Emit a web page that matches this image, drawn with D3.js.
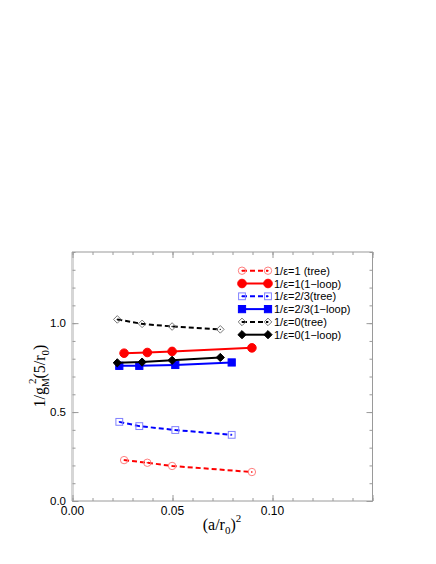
<!DOCTYPE html>
<html>
<head>
  <meta charset="utf-8">
  <title>1/g_M^2 vs (a/r0)^2</title>
  <style>
    body { margin: 0; background: #fff; }
  </style>
</head>
<body>
  <script src="https://d3js.org/d3.v7.min.js"></script>
  <script>
    const width = 436;
    const height = 564;

    // data
    const xTree1 = [0.0258, 0.0374, 0.0498, 0.0897];
    const yTree1 = [0.230, 0.215, 0.197, 0.163];
    const xLoop1 = [0.0258, 0.0374, 0.0498, 0.0897];
    const yLoop1 = [0.831, 0.835, 0.841, 0.861];
    const xTree23 = [0.0234, 0.0334, 0.0514, 0.0796];
    const yTree23 = [0.445, 0.421, 0.399, 0.372];
    const xLoop23 = [0.0234, 0.0334, 0.0514, 0.0796];
    const yLoop23 = [0.760, 0.760, 0.765, 0.779];
    const xTree0 = [0.0224, 0.0348, 0.0498, 0.0739];
    const yTree0 = [1.021, 0.996, 0.981, 0.965];
    const xLoop0 = [0.0224, 0.0348, 0.0498, 0.0739];
    const yLoop0 = [0.777, 0.781, 0.791, 0.807];

    const xTicks = [0, 0.05, 0.10];
    const xTickLabels = ['0.00', '0.05', '0.10'];
    const yTicks = [0, 0.5, 1.0];
    const yTickLabels = ['0.0', '0.5', '1.0'];

    const legendLabels = [
      '1/\u03b5=1 (tree)',
      '1/\u03b5=1(1\u2212loop)',
      '1/\u03b5=2/3(tree)',
      '1/\u03b5=2/3(1\u2212loop)',
      '1/\u03b5=0(tree)',
      '1/\u03b5=0(1\u2212loop)'
    ];

    const series = [
      { xs: xTree1, ys: yTree1, color: '#ff0000', light: '#ff7f7f', shape: 'circle', open: true },
      { xs: xLoop1, ys: yLoop1, color: '#ff0000', light: '#ff0000', shape: 'circle', open: false },
      { xs: xTree23, ys: yTree23, color: '#0000ff', light: '#8080ff', shape: 'square', open: true },
      { xs: xLoop23, ys: yLoop23, color: '#0000ff', light: '#0000ff', shape: 'square', open: false },
      { xs: xTree0, ys: yTree0, color: '#000000', light: '#777777', shape: 'diamond', open: true },
      { xs: xLoop0, ys: yLoop0, color: '#000000', light: '#000000', shape: 'diamond', open: false }
    ];

    const pLeft = 72.5, pRight = 372.5, pTop = 252, pBottom = 501;

    const x = d3.scaleLinear().domain([0, 0.15]).range([pLeft, pRight]);
    const y = d3.scaleLinear().domain([0, 1.4]).range([pBottom, pTop]);

    const svg = d3.select('body')
      .append('svg')
      .attr('width', width)
      .attr('height', height);

    const axisColor = '#9a9a9a';

    // frame
    svg.append('rect')
      .attr('x', pLeft).attr('y', pTop)
      .attr('width', pRight - pLeft).attr('height', pBottom - pTop)
      .attr('fill', 'none').attr('stroke', axisColor).attr('stroke-width', 1);
    svg.append('line')
      .attr('x1', pLeft).attr('x2', pLeft).attr('y1', pTop).attr('y2', pBottom)
      .attr('stroke', '#d6d6d6').attr('stroke-width', 3);

    const styleAxis = (g) => {
      g.select('.domain').remove();
      g.selectAll('.tick line').attr('stroke', axisColor);
      g.selectAll('.tick text').remove();
    };

    const minorX = d3.range(0, 0.1501, 0.01);
    const minorY = d3.range(0, 1.401, 0.1);
    const majorX = d3.range(0, 0.1501, 0.05);
    const majorY = d3.range(0, 1.401, 0.5);

    svg.append('g').attr('transform', `translate(0,${pBottom})`)
      .call(d3.axisBottom(x).tickValues(minorX).tickSize(-3)).call(styleAxis);
    svg.append('g').attr('transform', `translate(0,${pBottom})`)
      .call(d3.axisBottom(x).tickValues(majorX).tickSize(-6)).call(styleAxis);
    svg.append('g').attr('transform', `translate(0,${pTop})`)
      .call(d3.axisTop(x).tickValues(minorX).tickSize(-3)).call(styleAxis);
    svg.append('g').attr('transform', `translate(0,${pTop})`)
      .call(d3.axisTop(x).tickValues(majorX).tickSize(-6)).call(styleAxis);
    svg.append('g').attr('transform', `translate(${pLeft},0)`)
      .call(d3.axisLeft(y).tickValues(minorY).tickSize(-3)).call(styleAxis);
    svg.append('g').attr('transform', `translate(${pLeft},0)`)
      .call(d3.axisLeft(y).tickValues(majorY).tickSize(-6)).call(styleAxis);
    svg.append('g').attr('transform', `translate(${pRight},0)`)
      .call(d3.axisRight(y).tickValues(minorY).tickSize(-3)).call(styleAxis);
    svg.append('g').attr('transform', `translate(${pRight},0)`)
      .call(d3.axisRight(y).tickValues(majorY).tickSize(-6)).call(styleAxis);

    // tick labels
    svg.append('g').selectAll('text')
      .data(xTicks)
      .join('text')
      .attr('x', (d) => x(d))
      .attr('y', 515)
      .attr('text-anchor', 'middle')
      .attr('font-family', 'Liberation Sans, Arial, sans-serif')
      .attr('font-size', 12)
      .text((d, i) => xTickLabels[i]);

    svg.append('g').selectAll('text')
      .data(yTicks)
      .join('text')
      .attr('x', 66)
      .attr('y', (d) => y(d) + 4)
      .attr('text-anchor', 'end')
      .attr('font-family', 'Liberation Sans, Arial, sans-serif')
      .attr('font-size', 11.5)
      .text((d, i) => yTickLabels[i]);

    // axis titles
    const serif = 'Liberation Serif, Times New Roman, serif';
    const xt = svg.append('text')
      .attr('x', 222).attr('y', 530)
      .attr('text-anchor', 'middle')
      .attr('font-family', serif)
      .attr('font-size', 16);
    xt.append('tspan').text('(a/r');
    xt.append('tspan').attr('font-size', 11).attr('dy', 4).text('0');
    xt.append('tspan').attr('dy', -4).text(')');
    xt.append('tspan').attr('font-size', 11).attr('dy', -8).text('2');

    const yt = svg.append('text')
      .attr('transform', 'translate(45,376) rotate(-90)')
      .attr('text-anchor', 'middle')
      .attr('font-family', serif)
      .attr('font-size', 16);
    yt.append('tspan').text('1/g');
    yt.append('tspan').attr('font-size', 10).attr('dy', 4).text('M');
    yt.append('tspan').attr('font-size', 11).attr('dx', -6).attr('dy', -13).text('2');
    yt.append('tspan').attr('dy', 9).text('(5/r');
    yt.append('tspan').attr('font-size', 11).attr('dy', 4).text('0');
    yt.append('tspan').attr('dy', -4).text(')');

    const drawMarker = (g, s, cx, cy) => {
      const fill = s.open ? 'none' : s.color;
      const stroke = s.open ? s.light : s.color;
      if (s.shape === 'circle') {
        g.append('circle').attr('cx', cx).attr('cy', cy)
          .attr('r', s.open ? 3.7 : 4.3)
          .attr('fill', fill).attr('stroke', stroke).attr('stroke-width', 1);
      } else if (s.shape === 'square') {
        const h = s.open ? 3.4 : 3.6;
        g.append('rect').attr('x', cx - h).attr('y', cy - h)
          .attr('width', 2 * h).attr('height', 2 * h)
          .attr('fill', fill).attr('stroke', stroke).attr('stroke-width', 1);
      } else {
        const h = s.open ? 3.8 : 4.1;
        g.append('path')
          .attr('d', `M${cx},${cy - h}L${cx + h},${cy}L${cx},${cy + h}L${cx - h},${cy}Z`)
          .attr('fill', fill).attr('stroke', stroke).attr('stroke-width', 1);
      }
      if (s.open) {
        g.append('circle').attr('cx', cx).attr('cy', cy).attr('r', 0.7).attr('fill', s.color);
      }
    };

    const line = d3.line().x((d) => x(d[0])).y((d) => y(d[1]));

    series.forEach((s) => {
      const pts = s.xs.map((v, i) => [v, s.ys[i]]);
      const g = svg.append('g');
      g.append('path')
        .attr('d', line(pts))
        .attr('fill', 'none')
        .attr('stroke', s.color)
        .attr('stroke-width', 2)
        .attr('stroke-dasharray', s.open ? '5,3' : null);
      pts.forEach((p) => drawMarker(g, s, x(p[0]), y(p[1])));
    });

    // legend
    const legend = svg.append('g');
    series.forEach((s, i) => {
      const ly = 270.7 + i * 12.8;
      const g = legend.append('g');
      g.append('line')
        .attr('x1', 242).attr('x2', 268).attr('y1', ly).attr('y2', ly)
        .attr('stroke', s.color).attr('stroke-width', 2)
        .attr('stroke-dasharray', s.open ? '5,3' : null);
      drawMarker(g, s, 242, ly);
      drawMarker(g, s, 268, ly);
      g.append('text')
        .attr('x', 274).attr('y', ly + 4)
        .attr('font-family', 'Liberation Sans, Arial, sans-serif')
        .attr('font-size', 11)
        .text(legendLabels[i]);
    });
  </script>
</body>
</html>
